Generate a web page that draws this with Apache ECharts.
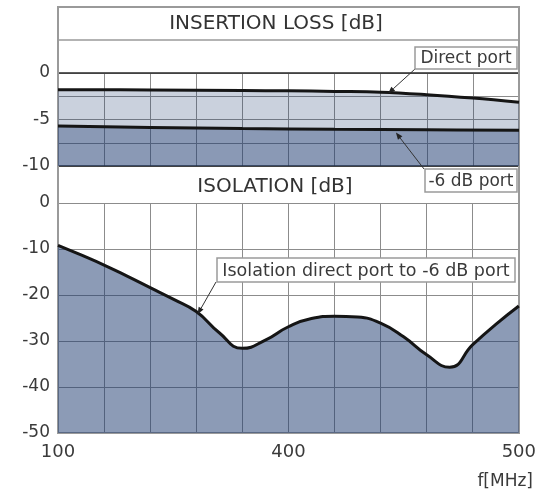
<!DOCTYPE html>
<html>
<head>
<meta charset="utf-8">
<script src="https://cdn.jsdelivr.net/npm/echarts@6/dist/echarts.min.js"></script>
<style>
  html, body { margin: 0; padding: 0; background: #ffffff; }
  #chart { width: 539px; height: 491px; }
</style>
</head>
<body>
<div id="chart"></div>
<script>
// x positions are given on the chart's 10-division frequency grid (0 = 100 MHz, 5 = 400 MHz, 10 = 500 MHz)
var xTickPos = [0, 5, 10];
var xTickLabels = ['100', '400', '500'];

// Insertion loss [dB]
var directX = [0, 2, 4, 5, 6, 7, 8, 9, 10];
var directY = [-1.8, -1.82, -1.88, -1.92, -1.98, -2.06, -2.33, -2.7, -3.15];
var sixDbX = [0, 2, 4, 6, 8, 10];
var sixDbY = [-5.7, -5.85, -5.97, -6.05, -6.1, -6.15];

// Isolation [dB]
var isoX = [0, 0.5, 1, 1.5, 2, 2.5, 3, 3.5, 4, 4.5, 5, 5.5, 6, 6.5, 7, 7.5, 8, 8.5, 9, 9.5, 10];
var isoY = [-9.2, -11.3, -13.5, -15.9, -18.4, -20.9, -23.6, -28.2, -31.6, -29.8, -26.9, -25.1, -24.6, -24.8, -26.1, -29.1, -33.0, -35.7, -30.8, -26.4, -22.4];

function pairs(xs, ys) { return xs.map(function (x, i) { return [x, ys[i]]; }); }

var FONT = 'DejaVu Sans';
var GRIDC = '#8c8c8c';
var chart = echarts.init(document.getElementById('chart'), null, { renderer: 'canvas' });

var xLabelFmt = function (v) {
  var i = xTickPos.indexOf(v);
  return i >= 0 ? xTickLabels[i] : '';
};

chart.setOption({
  animation: false,
  backgroundColor: '#ffffff',
  grid: [
    { left: 58, right: 20, top: 73, height: 93 },
    { left: 58, right: 20, top: 203, height: 230 }
  ],
  xAxis: [
    { type: 'value', gridIndex: 0, min: 0, max: 10, interval: 1,
      axisLine: { show: true, onZero: false, lineStyle: { color: '#2a2a2a', width: 1.5 } },
      axisTick: { show: false }, axisLabel: { show: false },
      splitLine: { show: true, lineStyle: { color: GRIDC, width: 1 } } },
    { type: 'value', gridIndex: 0, position: 'top', min: 0, max: 10, interval: 1,
      axisLine: { show: true, onZero: false, lineStyle: { color: '#2a2a2a', width: 1.5 } },
      axisTick: { show: false }, axisLabel: { show: false }, splitLine: { show: false } },
    { type: 'value', gridIndex: 1, min: 0, max: 10, interval: 1,
      axisLine: { show: true, onZero: false, lineStyle: { color: '#2a2a2a', width: 1.5 } },
      axisTick: { show: false },
      axisLabel: { show: true, formatter: xLabelFmt, margin: 10, color: '#3a3a3a',
                   fontFamily: FONT, fontSize: 18 },
      splitLine: { show: true, lineStyle: { color: GRIDC, width: 1 } } }
  ],
  yAxis: [
    { type: 'value', gridIndex: 0, min: -10, max: 0, interval: 2.5,
      axisLine: { show: true, onZero: false, lineStyle: { color: '#9a9a9a', width: 2 } },
      axisTick: { show: false },
      axisLabel: { margin: 8, color: '#3a3a3a', fontFamily: FONT, fontSize: 17,
                   formatter: function (v) { return (v % 5 === 0) ? String(v) : ''; } },
      splitLine: { show: true, lineStyle: { color: GRIDC, width: 1 } } },
    { type: 'value', gridIndex: 1, min: -50, max: 0, interval: 10,
      axisLine: { show: true, onZero: false, lineStyle: { color: '#9a9a9a', width: 2 } },
      axisTick: { show: false },
      axisLabel: { margin: 8, color: '#3a3a3a', fontFamily: FONT, fontSize: 17 },
      splitLine: { show: true, lineStyle: { color: GRIDC, width: 1 } } }
  ],
  series: [
    { name: 'Direct port', type: 'line', xAxisIndex: 0, yAxisIndex: 0,
      data: pairs(directX, directY), smooth: 0.4, symbol: 'none',
      lineStyle: { color: '#151515', width: 3 },
      areaStyle: { origin: 'start', color: 'rgba(25,55,110,0.23)', opacity: 1 }, z: 3 },
    { name: '-6 dB port', type: 'line', xAxisIndex: 0, yAxisIndex: 0,
      data: pairs(sixDbX, sixDbY), smooth: 0.4, symbol: 'none',
      lineStyle: { color: '#151515', width: 3 },
      areaStyle: { origin: 'start', color: 'rgba(25,55,110,0.36)', opacity: 1 }, z: 4 },
    { name: 'Isolation direct port to -6 dB port', type: 'line', xAxisIndex: 2, yAxisIndex: 1,
      data: pairs(isoX, isoY), smooth: 0.5, symbol: 'none',
      lineStyle: { color: '#151515', width: 3 },
      areaStyle: { origin: 'start', color: 'rgba(25,55,110,0.5)', opacity: 1 }, z: 3 }
  ]
});

function arrow(from, tip, headLen, headW) {
  var dx = tip[0] - from[0], dy = tip[1] - from[1];
  var L = Math.sqrt(dx * dx + dy * dy); var ux = dx / L, uy = dy / L;
  var bx = tip[0] - ux * headLen, by = tip[1] - uy * headLen;
  return [
    { type: 'line', z: 20, shape: { x1: from[0], y1: from[1], x2: bx, y2: by },
      style: { stroke: '#333', lineWidth: 1 } },
    { type: 'polygon', z: 20, shape: { points: [tip, [bx - uy * headW, by + ux * headW], [bx + uy * headW, by - ux * headW]] },
      style: { fill: '#222' } }
  ];
}
function box(x, y, w, h, text, fs) {
  return [
    { type: 'rect', z: 21, shape: { x: x, y: y, width: w, height: h },
      style: { fill: '#ffffff', stroke: '#9a9a9a', lineWidth: 1.5 } },
    { type: 'text', z: 22, x: x + w / 2, y: y + h / 2 + 1,
      style: { text: text, fill: '#3a3a3a', font: fs + 'px "' + FONT + '"', align: 'center', verticalAlign: 'middle' } }
  ];
}

var tipDirect = chart.convertToPixel({ gridIndex: 0 }, [7.16, -2.2]);
var tipSix = chart.convertToPixel({ gridIndex: 0 }, [7.33, -6.4]);
var tipIso = chart.convertToPixel({ xAxisIndex: 2, yAxisIndex: 1 }, [3.03, -24.2]);

var g = [];
// outer frame and title rows
g.push({ type: 'rect', z: 1, shape: { x: 58, y: 7, width: 461, height: 426 },
         style: { fill: 'none', stroke: '#9a9a9a', lineWidth: 2 } });
g.push({ type: 'line', z: 1, shape: { x1: 58, y1: 40, x2: 519, y2: 40 }, style: { stroke: '#9a9a9a', lineWidth: 1.5 } });
g.push({ type: 'text', z: 5, x: 276, y: 24,
         style: { text: 'INSERTION LOSS [dB]', fill: '#333', font: '20px "' + FONT + '"', align: 'center', verticalAlign: 'middle' } });
g.push({ type: 'text', z: 5, x: 275, y: 187,
         style: { text: 'ISOLATION [dB]', fill: '#333', font: '20px "' + FONT + '"', align: 'center', verticalAlign: 'middle' } });
g.push({ type: 'text', z: 5, x: 533, y: 482,
         style: { text: 'f[MHz]', fill: '#3a3a3a', font: '17px "' + FONT + '"', align: 'right', verticalAlign: 'middle' } });
// annotations
g = g.concat(arrow([415, 69], tipDirect, 7, 2.8));
g = g.concat(box(415, 47, 102, 22, 'Direct port', 17));
g = g.concat(arrow([424, 169], tipSix, 7, 2.8));
g = g.concat(box(425, 169, 92, 23, '-6 dB port', 17));
g = g.concat(arrow([216, 282], tipIso, 7, 2.8));
g = g.concat(box(217, 258, 298, 24, 'Isolation direct port to -6 dB port', 17.5));

chart.setOption({ graphic: { elements: g } });
</script>
</body>
</html>
